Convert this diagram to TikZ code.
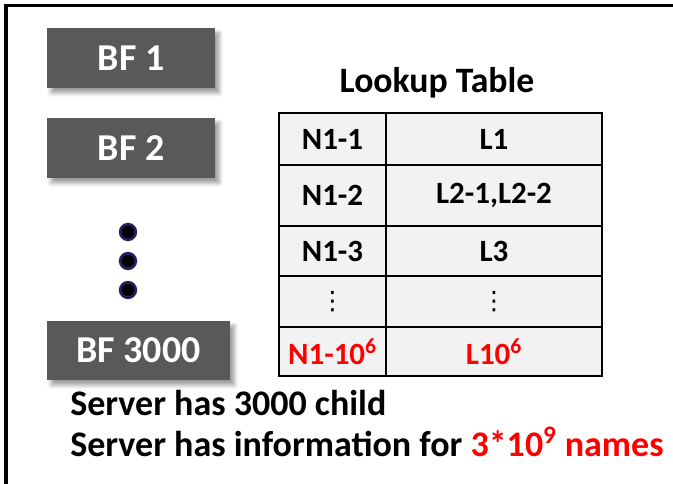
\documentclass[tikz,border=0pt]{standalone}
\usepackage{fontspec}
\setmainfont{Carlito}
\newfontfamily\dotsfont{DejaVu Sans}
\usepackage{xcolor}
\usetikzlibrary{shadows.blur}
\definecolor{bfgray}{RGB}{89,89,89}
\definecolor{cellgray}{RGB}{242,242,242}
\definecolor{dotblue}{RGB}{35,31,95}
\tikzset{
	bfbox/.style={shape=rectangle, fill=bfgray, text=white, inner sep=0, font=\bfseries\fontsize{27}{30}\selectfont,
		blur shadow={shadow xshift=3pt, shadow yshift=-3.5pt, shadow blur radius=3pt, shadow opacity=40}},
	cell/.style={shape=rectangle, draw, fill=cellgray, line width=1.4pt, inner sep=0, font=\bfseries\fontsize{22}{24}\selectfont},
	bigdot/.style={circle, fill=black, draw=dotblue, line width=2pt, inner sep=0, minimum size=11pt},
}
\begin{document}
\begin{tikzpicture}[x=0.025cm, y=-0.025cm]
	\useasboundingbox (0, 0) rectangle (673, 483);
	% Frame:
	\draw[line width=2.4pt] (6, 490) -- (6, 5.5) -- (680, 5.5);
	% Bloom filters:
	\node[bfbox, minimum width=4.2cm, minimum height=1.5cm](BF1) at (131, 58){BF 1};
	\node[bfbox, minimum width=4.2cm, minimum height=1.5cm](BF2) at (131, 148){BF 2};
	\node[bigdot](Dot1) at (128, 232){};
	\node[bigdot](Dot2) at (128, 261){};
	\node[bigdot](Dot3) at (128, 290){};
	\node[bfbox, minimum width=4.575cm, minimum height=1.475cm](BF3) at (138.5, 350.5){BF 3000};
	% Lookup table:
	\node[font=\bfseries\fontsize{25.4}{27}\selectfont](Title) at (437, 83){Lookup Table};
	\node[cell, minimum width=2.675cm, minimum height=1.3cm](C11) at (332.5, 139){N1-1};
	\node[cell, minimum width=5.4cm, minimum height=1.3cm](C12) at (494, 139){L1};
	\node[cell, minimum width=2.675cm, minimum height=1.525cm](C21) at (332.5, 195.5){N1-2};
	\node[cell, minimum width=5.4cm, minimum height=1.525cm](C22) at (494, 195.5){L2-1,L2-2};
	\node[cell, minimum width=2.675cm, minimum height=1.25cm](C31) at (332.5, 251){N1-3};
	\node[cell, minimum width=5.4cm, minimum height=1.25cm](C32) at (494, 251){L3};
	\node[cell, minimum width=2.675cm, minimum height=1.275cm, font=\dotsfont\fontsize{18}{20}\selectfont](C41) at (332.5, 301.5){⋮};
	\node[cell, minimum width=5.4cm, minimum height=1.275cm, font=\dotsfont\fontsize{18}{20}\selectfont](C42) at (494, 301.5){⋮};
	\node[cell, text=red, minimum width=2.675cm, minimum height=1.225cm](C51) at (332.5, 351.5){N1-10\textsuperscript{6}};
	\node[cell, text=red, minimum width=5.4cm, minimum height=1.225cm](C52) at (494, 351.5){L10\textsuperscript{6}};
	% Notes:
	\node[anchor=base west, inner sep=0, font=\bfseries\fontsize{25.6}{28}\selectfont](Note1) at (70, 415){Server has 3000 child};
	\node[anchor=base west, inner sep=0, font=\bfseries\fontsize{25.6}{28}\selectfont](Note2) at (70, 456){Server has information for \textcolor{red}{3*10\textsuperscript{9} names}};
\end{tikzpicture}
\end{document}
